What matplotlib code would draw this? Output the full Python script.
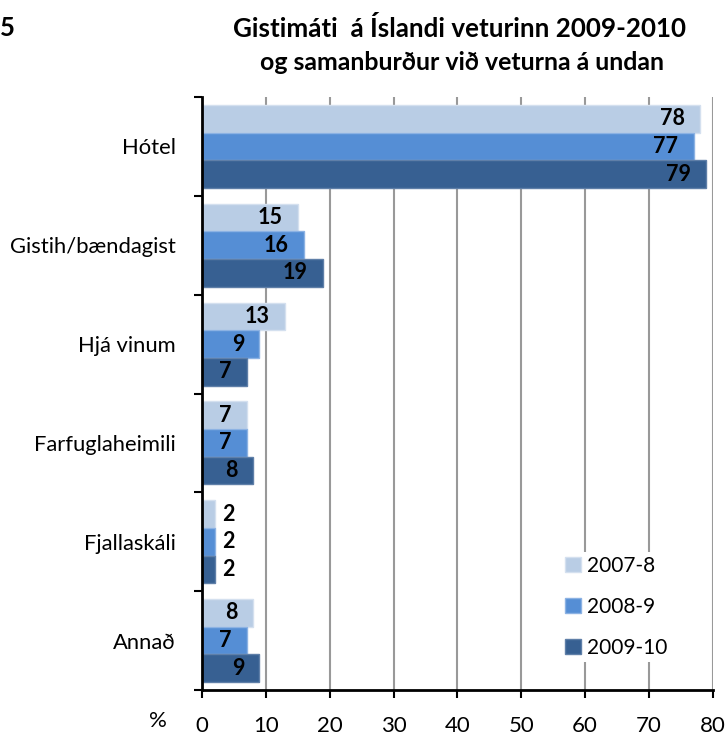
import matplotlib
matplotlib.use('Agg')
import matplotlib.pyplot as plt
import numpy as np

plt.rcParams['font.family'] = ['Lato', 'DejaVu Sans']

categories = ['Hótel', 'Gistih/bændagist', 'Hjá vinum', 'Farfuglaheimili',
              'Fjallaskáli', 'Annað']
series = ['2007-8', '2008-9', '2009-10']
v_2007 = [78, 15, 13, 7, 2, 8]
v_2008 = [77, 16, 9, 7, 2, 7]
v_2009 = [79, 19, 7, 8, 2, 9]
x_ticks = [0, 10, 20, 30, 40, 50, 60, 70, 80]

colors = ['#B9CDE5', '#558ED5', '#376092']
edges = ['#D4E0EF', '#8CB2E3', '#5F7FA8']

fig = plt.figure(figsize=(7.28, 7.39), dpi=100)
ax = fig.add_axes([0.2775, 0.0663, 0.7015, 0.8024])

n = len(categories)
ypos = np.arange(n)
h = 0.28
for i, (vals, lab) in enumerate(zip([v_2007, v_2008, v_2009], series)):
    y = ypos - h + i * h
    ax.barh(y, vals, height=h, color=colors[i], edgecolor=edges[i],
            linewidth=1, label=lab, zorder=3)
    for yy, v in zip(y, vals):
        if v <= 2:
            ax.annotate(str(v), (v, yy), xytext=(5, 0), textcoords='offset points',
                        ha='left', va='center', fontsize=15.5, fontweight='bold',
                        zorder=4)
        else:
            ax.annotate(str(v), (v, yy), xytext=(-11, 0), textcoords='offset points',
                        ha='right', va='center', fontsize=15.5, fontweight='bold',
                        zorder=4)

ax.set_xlim(0, 80)
ax.set_ylim(n - 0.5, -0.5)
ax.set_xticks(x_ticks)
ax.set_xticklabels([str(t) for t in x_ticks], fontsize=16)
ax.set_yticks(ypos)
ax.set_yticklabels(categories, fontsize=15.8)
ax.tick_params(axis='y', length=0, pad=19)
ax.set_yticks(np.arange(n + 1) - 0.5, minor=True)
ax.tick_params(axis='y', which='minor', length=6, width=1.5, direction='out')
ax.tick_params(axis='x', length=6, width=1.5, direction='out', pad=13)

ax.grid(axis='x', color='#999999', linewidth=1.5, zorder=0)
for s in ['top', 'right']:
    ax.spines[s].set_visible(False)
for s in ['left', 'bottom']:
    ax.spines[s].set_linewidth(2)
    ax.spines[s].set_zorder(5)

leg = ax.legend(loc='lower right', bbox_to_anchor=(0.94, 0.03), frameon=True,
                fontsize=15, handlelength=0.75, handleheight=0.75,
                labelspacing=1.0, handletextpad=0.3, borderpad=0.2)
leg.get_frame().set_facecolor('white')
leg.get_frame().set_edgecolor('none')
leg.get_frame().set_alpha(1)

fig.text(0.217, 0.024, '%', fontsize=16, ha='center', va='center')
fig.text(0.0, 0.962, '5', fontsize=18.5, fontweight='bold', ha='left', va='center')
fig.text(0.631, 0.962, 'Gistimáti  á Íslandi veturinn 2009-2010', fontsize=18.7,
         fontweight='bold', ha='center', va='center')
fig.text(0.635, 0.916, 'og samanburður við veturna á undan', fontsize=17.9,
         fontweight='bold', ha='center', va='center')

fig.savefig('out.png', dpi=100)
